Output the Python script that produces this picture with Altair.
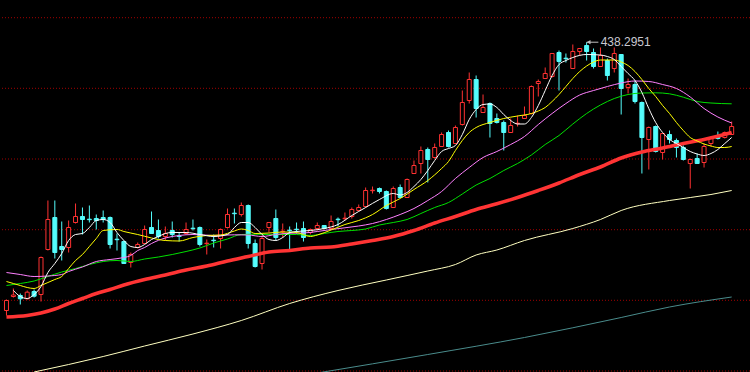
import altair as alt
import pandas as pd

# ---------------- candle data (price units) ----------------
opens = [170, 184, 185, 181.7, 189, 186, 231, 263, 234, 233,
         258, 264, 261.3, 262, 263, 263, 241.3, 239, 218, 233,
         237, 253, 250, 244, 250, 244.5, 247, 252.3, 253, 236.8,
         240.3, 242, 253, 267.3, 266, 275, 237, 217, 253, 262,
         248.8, 250.3, 251.3, 252, 248, 252, 255, 252, 261.3, 261.8,
         264, 270, 274, 289.8, 292, 289, 273, 293, 283, 307,
         317, 331, 323, 334, 348, 337, 356, 380, 401, 368,
         377, 362, 358, 348, 356.8, 362, 367, 397, 402, 404,
         428, 422.3, 412, 429, 435, 428, 414, 420, 412, 426,
         393, 396, 378, 341, 354, 328, 346, 340, 333, 317,
         322, 318, 337, 344, 343, 346]
highs = [181, 192, 187, 190, 191, 224, 280, 280, 259, 260,
         277, 273, 275, 266, 270, 264, 247, 240, 228, 238,
         255, 269, 261, 254, 259, 248, 258, 261, 254, 241,
         246, 252, 272, 272, 278, 276, 241, 245, 258, 271,
         257, 254, 258, 259, 252, 258, 255, 265, 263, 268,
         273, 276, 293, 294, 293, 290, 294, 296, 302, 320,
         334, 333, 337, 348, 350, 355, 390, 408, 405, 386,
         378, 367, 360, 362, 365, 374, 395, 401, 413, 427,
         430, 427, 436, 432, 438.2951, 432, 433, 422, 433, 426,
         402, 400, 379, 354, 355, 347, 350, 342, 335, 322,
         327, 337, 344, 349, 349, 359]
lows = [165, 183, 176, 181, 183, 179, 230, 222, 220, 228,
        257, 246, 258, 251, 258, 232, 230, 217, 213, 232,
        237, 247, 242, 240, 243, 239, 246, 250, 234, 226,
        233, 232, 252, 257, 264, 232, 213, 211, 248, 240,
        243, 231, 247, 239, 246, 250, 251, 252, 254, 260,
        262, 270, 273, 287, 287, 271, 273, 283, 283, 307,
        307, 298, 322, 334, 333, 337, 355, 377, 363, 368,
        343, 357, 330, 348, 354, 362, 366, 384, 402, 403,
        390, 418, 412, 425, 420, 412, 414, 400, 408, 366,
        387, 377, 307, 311, 328, 321, 337, 323, 320, 292,
        317, 313, 334, 341, 342, 346]
closes = [180, 185.5, 181.7, 188.3, 184.3, 223, 261, 228, 231, 253,
          264, 261, 260.8, 260, 261, 236, 240.8, 217, 226, 236,
          251, 247, 244, 247, 246, 244, 251, 251.8, 236, 237.3,
          239.8, 251, 266, 266.8, 275, 237, 214, 242, 258, 243,
          249.3, 249.8, 250.8, 243, 251, 255, 252, 259, 260.8, 262.3,
          271, 273, 290, 290.3, 289, 272, 292, 283, 301, 315,
          330, 321, 333, 346, 334, 353, 378, 401, 372, 373,
          357, 358, 348, 355, 357.3, 365, 394, 399, 407, 427,
          419, 421.8, 429, 432, 429, 414, 425, 405, 427, 392,
          396, 379, 343, 353, 329, 347, 341, 333, 321, 321,
          317, 334, 343, 342, 348, 354]

# ---------------- moving averages (sampled at candle index) ----------------
ma5_i = [1, 2, 3, 4, 5, 6, 7, 8, 9, 10, 11, 12, 13, 14, 15, 16, 17, 18, 19, 20,
         21, 22, 23, 24, 26, 28, 30, 32, 33, 34, 35, 36, 37, 38, 39, 40, 41, 42, 44, 46,
         48, 50, 52, 54, 56, 57, 58, 59, 60, 61, 62, 63, 64, 65, 66, 67, 68, 69, 70, 71,
         72, 73, 74, 75, 76, 77, 78, 79, 80, 81, 82, 84, 86, 87, 88, 89, 90, 91, 92, 93,
         94, 95, 96, 97, 98, 99, 100, 101, 102, 103, 104, 105]
ma5_v = [190, 184, 182, 186, 194, 208, 217, 227, 240, 246, 247, 253, 260, 261, 258, 248, 240, 234, 233, 236,
         241, 244, 247, 248, 248, 246, 244, 246, 253, 258, 258, 253, 246, 241, 240, 243, 248, 249, 250, 252,
         256, 265, 273, 281, 287, 285.5, 288, 294, 301, 310, 320, 329, 332, 335, 346, 361, 371, 376, 376.5, 373,
         366, 360, 356.5, 356.5, 363, 375, 390, 405, 416, 420, 423, 426, 425.5, 424, 421, 414, 407, 400, 388, 372,
         358, 348, 341, 337, 333, 329, 326.5, 325, 327, 331, 337, 343]

ma10_i = [0, 1, 2, 3, 4, 5, 6, 7, 8, 9, 10, 11, 12, 13, 14, 16, 17, 19, 21, 23,
          25, 27, 29, 31, 33, 34, 35, 36, 38, 40, 42, 44, 45, 47, 49, 51, 53, 55, 57, 59,
          61, 63, 64, 65, 66, 67, 68, 70, 72, 74, 76, 77, 78, 79, 80, 81, 82, 83, 84, 85,
          86, 88, 89, 90, 91, 92, 93, 94, 95, 96, 97, 98, 99, 100, 101, 102, 103, 104, 105]
ma10_v = [199, 197, 195, 193, 192, 195, 198, 201, 204, 212, 220, 226, 234, 242, 250, 251, 249, 246, 242.5, 240,
          239.5, 243, 245, 245.5, 249.5, 251.5, 250, 247, 247.5, 248.5, 248, 244, 245.5, 250.5, 256, 260, 266, 275, 282, 291,
          300, 312, 319, 330, 340, 348, 353, 358, 362, 364.5, 367, 369.5, 373, 379, 386, 394, 402, 409, 414.5, 418.5,
          420.5, 420.5, 418.5, 415, 409, 401, 392, 384, 375, 367, 358, 350, 343, 339.5, 336.5, 334.5, 333, 333, 334]

ma20_i = [0, 2, 4, 6, 8, 9, 11, 13, 15, 17, 18, 19, 20, 21, 23, 25, 27, 30, 33, 35,
          37, 39, 41, 43, 45, 47, 49, 51, 53, 55, 57, 59, 61, 63, 65, 67, 69, 71, 73, 75,
          77, 79, 81, 83, 85, 87, 89, 91, 93, 95, 97, 99, 101, 103, 105]
ma20_v = [208, 206, 204, 204.5, 206, 209, 213.5, 219, 221, 223, 225, 230, 233, 237, 242.5, 245, 246, 245, 245.7, 245.5,
          244, 246, 247.3, 247.5, 249, 251, 252.7, 254.5, 257, 261, 266, 272, 280, 289, 302, 313, 323, 329, 336, 344,
          356, 367, 377, 385.5, 390, 394, 397.5, 399.5, 399, 396, 392, 383.5, 372, 363.5, 357.5]

ma30_i = [0, 2, 4, 6, 8, 10, 12, 14, 16, 18, 20, 22, 24, 26, 28, 30, 32, 34, 36, 38,
          42, 44, 46, 48, 50, 52, 54, 56, 58, 60, 62, 64, 66, 68, 70, 72, 74, 76, 78, 80,
          82, 84, 86, 88, 90, 92, 94, 96, 98, 100, 102, 105]
ma30_v = [195, 197, 199.5, 204, 208.5, 212, 216, 219, 220, 219, 221.5, 223.5, 226, 229, 232.5, 237.5, 241.5, 246, 246.3, 246,
          246, 245, 247, 249, 250, 251.5, 255.5, 258, 261, 267, 273, 278, 286.5, 295.5, 302, 310, 317, 325.5, 336, 345,
          356.5, 367, 375.5, 382, 386, 387.5, 387.7, 386.7, 383.3, 379, 377.5, 376.7]

ma60_i = [0, 3, 5, 7, 9, 11, 13, 15, 17, 20, 23, 26, 29, 32, 35, 38, 41, 44, 47, 50,
          53, 56, 59, 62, 65, 68, 71, 74, 77, 80, 83, 86, 89, 92, 95, 98, 101, 105]
ma60_v = [163.5, 165, 167.5, 171.5, 177, 182, 187, 191, 195.5, 201, 205.5, 210.5, 214.5, 219.5, 224, 228.5, 230, 232.5, 233.5, 236.5,
          240, 244, 250, 257.5, 264, 271, 276.7, 283, 290, 297.5, 306, 313.5, 322.5, 328.5, 332.5, 337, 341, 348]

ma120_i = [4, 9, 14, 20, 27, 34, 41, 48, 55, 61, 65, 68, 71, 75, 82, 86, 89, 96, 102, 105]
ma120_v = [108.5, 116, 124, 134.5, 146.5, 160, 177, 190, 200.5, 209.5, 216, 225.5, 230.5, 240, 252, 261, 270, 280, 286, 290]

ma250_i = [45, 61, 75, 89, 96, 105]
ma250_v = [107.5, 126, 143, 163, 173.5, 183.5]

grid_prices = [462.8, 392.2, 321.5, 250.8, 180.2, 109.5]

peak_label = "438.2951"

# ---------------- build tables ----------------
candles = pd.DataFrame({
    "i": list(range(len(opens))),
    "open": opens, "high": highs, "low": lows, "close": closes,
})
candles["up"] = candles["close"] >= candles["open"]

x_scale = alt.Scale(domain=[-1.5 / 7, 748.5 / 7], nice=False, zero=False)
y_scale = alt.Scale(domain=[108.5, 480.5], nice=False, zero=False)

RED = "#ff3232"
CYAN = "#54fcfc"

X = lambda f="i": alt.X(f"{f}:Q", scale=x_scale, axis=None)
Y = lambda f: alt.Y(f"{f}:Q", scale=y_scale, axis=None)

grid = alt.Chart(pd.DataFrame({"p": grid_prices})).mark_rule(
    color="#a00000", strokeDash=[1, 2], strokeWidth=1
).encode(y=Y("p"))

base = alt.Chart(candles)
wick_up = base.transform_filter("datum.close >= datum.open").mark_rule(
    color=RED, strokeWidth=1).encode(x=X(), y=Y("low"), y2="high:Q")
wick_dn = base.transform_filter("datum.close < datum.open").mark_rule(
    color=CYAN, strokeWidth=1).encode(x=X(), y=Y("low"), y2="high:Q")
body_up = base.transform_filter("datum.close >= datum.open").mark_bar(
    size=4, fill="black", stroke=RED, strokeWidth=1).encode(x=X(), y=Y("open"), y2="close:Q")
body_dn = base.transform_filter("datum.close < datum.open").mark_bar(
    size=4, fill=CYAN, stroke=CYAN, strokeWidth=1).encode(x=X(), y=Y("open"), y2="close:Q")


def ma_line(idx, vals, color, width):
    df = pd.DataFrame({"i": idx, "v": vals})
    return alt.Chart(df).mark_line(color=color, strokeWidth=width, interpolate="monotone",
                                   clip=True).encode(x=X(), y=Y("v"))


lines = [
    ma_line(ma250_i, ma250_v, "#4a8c8c", 1),
    ma_line(ma120_i, ma120_v, "#ffffc0", 1),
    ma_line(ma60_i, ma60_v, "#ff3434", 3.5),
    ma_line(ma30_i, ma30_v, "#00e000", 1),
    ma_line(ma20_i, ma20_v, "#ff80ff", 1),
    ma_line(ma10_i, ma10_v, "#ffff00", 1),
    ma_line(ma5_i, ma5_v, "#ffffff", 1),
]

peak = candles.loc[[candles["high"].idxmax()]].copy()
peak["label"] = peak_label
pk = alt.Chart(peak)
arrow = pk.transform_calculate(i2="datum.i + 1.7").mark_rule(
    color="#c0c0c0", strokeWidth=1).encode(x=X(), x2="i2:Q", y=Y("high"))
head = pk.mark_point(shape="triangle-left", size=18, filled=True, color="#c0c0c0",
                     opacity=1, xOffset=2).encode(x=X(), y=Y("high"))
text = pk.mark_text(align="left", baseline="middle", dx=14, dy=0, fontSize=12,
                    font="Liberation Sans", color="#c8c8d0").encode(
    x=X(), y=Y("high"), text="label:N")

chart = alt.layer(
    grid, wick_up, wick_dn, body_up, body_dn, *lines, arrow, head, text
).properties(
    width=750, height=372, background="black", padding=0,
    autosize=alt.AutoSizeParams(type="none"),
).configure_view(stroke=None)

chart.save("out.html", embed_options={"renderer": "svg", "actions": False})
